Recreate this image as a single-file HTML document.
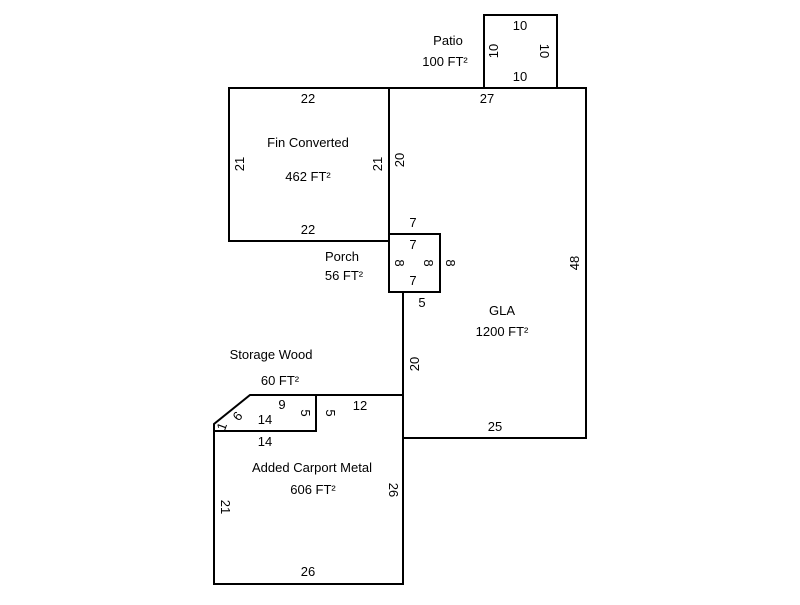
<!DOCTYPE html>
<html><head><meta charset="utf-8"><style>
html,body{margin:0;padding:0;background:#fff;}
svg text{font-family:"Liberation Sans",Arial,sans-serif;font-size:13px;fill:#000;}
</style></head><body>
<svg width="800" height="600" viewBox="0 0 800 600" xmlns="http://www.w3.org/2000/svg">
<g fill="none" stroke="#000" stroke-width="2">
<rect x="484" y="15" width="73" height="73"/>
<rect x="229" y="88" width="160" height="153"/>
<polyline points="389,88 586,88 586,438 403,438 403,292"/>
<line x1="389" y1="88" x2="389" y2="234"/>
<rect x="389" y="234" width="51" height="58"/>
<polyline points="250,395 403,395 403,584 214,584 214,424"/>
<polygon points="250,395 316,395 316,431 214,431 214,424"/>
</g>
<g text-anchor="middle">
<text x="448" y="45">Patio</text>
<text x="445" y="66">100 FT²</text>
<text x="520" y="30">10</text>
<text x="520" y="81">10</text>
<text transform="translate(498,51) rotate(-90)">10</text>
<text transform="translate(540,51) rotate(90)">10</text>
<text x="308" y="103">22</text>
<text x="308" y="234">22</text>
<text x="308" y="147">Fin Converted</text>
<text x="308" y="181">462 FT²</text>
<text transform="translate(244,164) rotate(-90)">21</text>
<text transform="translate(382,164) rotate(-90)">21</text>
<text transform="translate(404,160) rotate(-90)">20</text>
<text x="487" y="103">27</text>
<text transform="translate(579,263) rotate(-90)">48</text>
<text x="502" y="315">GLA</text>
<text x="502" y="336">1200 FT²</text>
<text transform="translate(419,364) rotate(-90)">20</text>
<text x="495" y="431">25</text>
<text x="413" y="227">7</text>
<text x="413" y="249">7</text>
<text x="413" y="285">7</text>
<text x="422" y="307">5</text>
<text transform="translate(395,263) rotate(90)">8</text>
<text transform="translate(424,263) rotate(90)">8</text>
<text transform="translate(446,263) rotate(90)">8</text>
<text x="342" y="261">Porch</text>
<text x="344" y="280">56 FT²</text>
<text x="271" y="359">Storage Wood</text>
<text x="280" y="385">60 FT²</text>
<text x="282" y="409">9</text>
<text x="265" y="424">14</text>
<text x="265" y="446">14</text>
<text x="360" y="410">12</text>
<text transform="translate(301,413) rotate(90)">5</text>
<text transform="translate(326,413) rotate(90)">5</text>
<text transform="translate(241,419) rotate(-50)">6</text>
<text transform="translate(226,428) rotate(-70)">1</text>
<text x="312" y="472">Added Carport Metal</text>
<text x="313" y="494">606 FT²</text>
<text transform="translate(389,490) rotate(90)">26</text>
<text transform="translate(221,507) rotate(90)">21</text>
<text x="308" y="576">26</text>
</g>
</svg>
</body></html>
